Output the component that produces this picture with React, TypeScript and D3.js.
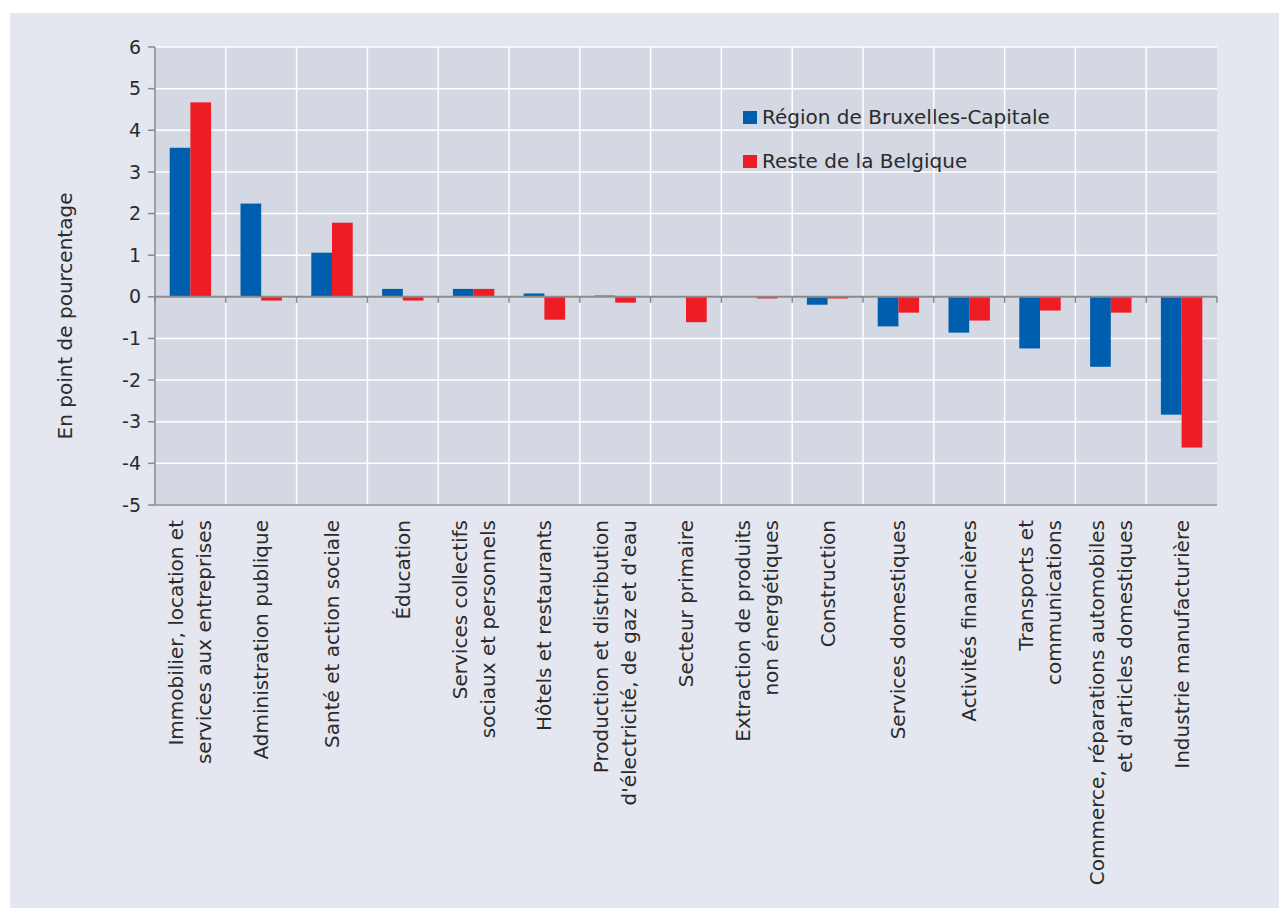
import React from "react";
import * as d3 from "d3";

const categories: string[][] = [
  ["Immobilier, location et", "services aux entreprises"],
  ["Administration publique"],
  ["Santé et action sociale"],
  ["Éducation"],
  ["Services collectifs", "sociaux et personnels"],
  ["Hôtels et restaurants"],
  ["Production et distribution", "d'électricité, de gaz et d'eau"],
  ["Secteur primaire"],
  ["Extraction de produits", "non énergétiques"],
  ["Construction"],
  ["Services domestiques"],
  ["Activités financières"],
  ["Transports et", "communications"],
  ["Commerce, réparations automobiles", "et d'articles domestiques"],
  ["Industrie manufacturière"],
];

const bruxelles: number[] = [3.58, 2.24, 1.06, 0.19, 0.19, 0.08, 0.03, 0, 0, -0.19, -0.71, -0.86, -1.24, -1.68, -2.83];
const resteBelgique: number[] = [4.67, -0.09, 1.78, -0.09, 0.19, -0.55, -0.14, -0.61, -0.04, -0.04, -0.38, -0.57, -0.33, -0.38, -3.62];

const seriesNames = ["Région de Bruxelles-Capitale", "Reste de la Belgique"];
const seriesColors = ["#005EAE", "#EE1C25"];
const yTicks = [6, 5, 4, 3, 2, 1, 0, -1, -2, -3, -4, -5];
const yTitle = "En point de pourcentage";

const W = 1279;
const H = 908;
const left = 155;
const right = 1217;
const top = 47;
const bottom = 505;
const FONT = "'DejaVu Sans', 'Noto Sans', sans-serif";

export default function App() {
  const idx = categories.map((_, i) => String(i));
  const x = d3.scaleBand<string>().domain(idx).range([left, right]).paddingInner(0).paddingOuter(0);
  const y = d3.scaleLinear().domain([-5, 6]).range([bottom, top]);
  const inner = d3.scaleBand<number>().domain([0, 1]).range([0, x.bandwidth()]).paddingOuter(0.71).paddingInner(0);
  const series = [bruxelles, resteBelgique];
  const y0 = y(0);
  const bw = x.bandwidth();
  const fmt = (v: number) => (v < 0 ? "-" + Math.abs(v) : String(v));

  return (
    <svg width={W} height={H} style={{ position: "absolute", left: 0, top: 0 }} fontFamily={FONT}>
      <rect x={0} y={0} width={W} height={H} fill="#ffffff" />
      <rect x={10} y={13} width={W - 10} height={H - 13} fill="#E4E7EF" />
      <rect x={left} y={top} width={right - left} height={bottom - top} fill="#D3D8E2" />
      {yTicks.map((t) => (
        <line key={"hg" + t} x1={left} x2={right} y1={y(t)} y2={y(t)} stroke="#ffffff" strokeWidth={1.5} />
      ))}
      {idx.slice(1).map((k) => (
        <line key={"vg" + k} x1={x(k)!} x2={x(k)!} y1={top} y2={bottom} stroke="#ffffff" strokeWidth={1.5} />
      ))}
      {series.map((vals, s) =>
        vals.map((v, i) => {
          const bx = x(String(i))! + inner(s)!;
          const yv = y(v);
          return (
            <rect
              key={"b" + s + "-" + i}
              x={bx}
              y={Math.min(yv, y0)}
              width={inner.bandwidth()}
              height={Math.abs(yv - y0)}
              fill={seriesColors[s]}
            />
          );
        })
      )}
      <line x1={left} x2={left} y1={top} y2={bottom} stroke="#8A8A8A" strokeWidth={1.5} />
      <line x1={left} x2={right} y1={bottom} y2={bottom} stroke="#8A8A8A" strokeWidth={1.5} />
      {yTicks.map((t) => (
        <g key={"yt" + t}>
          <line x1={left - 7} x2={left} y1={y(t)} y2={y(t)} stroke="#8A8A8A" strokeWidth={1.5} />
          <text x={left - 14} y={y(t)} dy="0.35em" textAnchor="end" fontSize={19} fill="#2b2b2b">
            {fmt(t)}
          </text>
        </g>
      ))}
      <line x1={left} x2={right} y1={y0} y2={y0} stroke="#8A8A8A" strokeWidth={2} />
      {[...idx.map((k) => x(k)!), right].map((px, i) => (
        <line key={"zt" + i} x1={px} x2={px} y1={y0} y2={y0 + 6} stroke="#8A8A8A" strokeWidth={1.5} />
      ))}
      {categories.map((lines, i) => {
        const cx = x(String(i))! + bw / 2;
        const n = lines.length;
        return lines.map((ln, j) => {
          const lx = cx + (j - (n - 1) / 2) * 28;
          return (
            <text
              key={"xl" + i + "-" + j}
              transform={`translate(${lx},${520}) rotate(-90)`}
              textAnchor="end"
              dy="0.35em"
              fontSize={20}
              fill="#2b2b2b"
            >
              {ln}
            </text>
          );
        });
      })}
      <text transform={`translate(65,316) rotate(-90)`} textAnchor="middle" dy="0.35em" fontSize={20} fill="#2b2b2b">
        {yTitle}
      </text>
      {seriesNames.map((nm, s) => (
        <g key={"lg" + s} transform={`translate(743,${111 + s * 44})`}>
          <rect x={0} y={0} width={14} height={13} fill={seriesColors[s]} />
          <text x={19} y={13} fontSize={20} fill="#2b2b2b">
            {nm}
          </text>
        </g>
      ))}
    </svg>
  );
}
